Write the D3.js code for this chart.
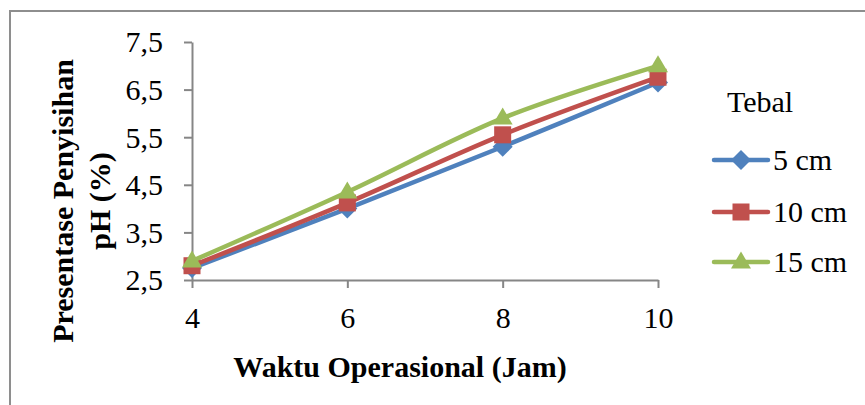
<!DOCTYPE html>
<html>
<head>
<meta charset="utf-8">
<script src="https://cdn.jsdelivr.net/npm/d3@7/dist/d3.min.js"></script>
<style>
  body { margin: 0; background: #fff; }
  svg { display: block; }
</style>
</head>
<body>
<div id="chart"></div>
<script>
// data
const hours = [4, 6, 8, 10];
const yTicks = [2.5, 3.5, 4.5, 5.5, 6.5, 7.5];
const seriesNames = ["5 cm", "10 cm", "15 cm"];
const tebal5 = [2.75, 4.0, 5.3, 6.65];
const tebal10 = [2.8, 4.12, 5.55, 6.76];
const tebal15 = [2.9, 4.35, 5.9, 7.0];
const colors = ["#4F81BD", "#C0504D", "#9BBB59"];
const markers = ["diamond", "square", "triangle"];

const width = 865;
const height = 405;
const font = "'Liberation Serif', 'Times New Roman', serif";
const axisColor = "#868686";

const svg = d3.select("#chart")
  .append("svg")
  .attr("width", width)
  .attr("height", height);

// outer chart frame (runs off the right/bottom of the picture)
svg.append("rect")
  .attr("x", 10)
  .attr("y", 11)
  .attr("width", 900)
  .attr("height", 500)
  .attr("fill", "none")
  .attr("stroke", "#8e8e8e")
  .attr("stroke-width", 2);

const x = d3.scaleLinear().domain([4, 10]).range([192, 658]);
const y = d3.scaleLinear().domain([2.5, 7.5]).range([280, 42]);

// y axis
const yAxis = svg.append("g")
  .attr("transform", `translate(${x(4)},0)`)
  .call(d3.axisLeft(y).tickValues(yTicks).tickSize(8).tickSizeOuter(0)
    .tickFormat(d => d3.format(".1f")(d).replace(".", ",")));

// x axis
const xAxis = svg.append("g")
  .attr("transform", `translate(0,${y(2.5)})`)
  .call(d3.axisBottom(x).tickValues(hours).tickSize(8).tickSizeOuter(0)
    .tickFormat(d => d));

[yAxis, xAxis].forEach(g => {
  g.attr("font-family", font).attr("font-size", 30);
  g.select(".domain").attr("stroke", axisColor).attr("stroke-width", 2);
  g.selectAll(".tick line").attr("stroke", axisColor).attr("stroke-width", 2);
  g.selectAll(".tick text").attr("fill", "#000");
});
yAxis.selectAll(".tick text").attr("x", -29).attr("dy", "0.33em");
xAxis.selectAll(".tick text").attr("y", 27).attr("dy", "0.71em");

// axis titles
svg.append("text")
  .attr("x", 400)
  .attr("y", 377)
  .attr("text-anchor", "middle")
  .style("font-family", font)
  .style("font-size", "30px")
  .style("font-weight", "bold")
  .text("Waktu Operasional (Jam)");

const yTitle = svg.append("text")
  .attr("transform", "translate(0,201) rotate(-90)")
  .attr("text-anchor", "middle")
  .style("font-family", font)
  .style("font-size", "30px")
  .style("font-weight", "bold");
yTitle.append("tspan").attr("x", 0).attr("y", 73).text("Presentase Penyisihan");
yTitle.append("tspan").attr("x", 0).attr("y", 110).text("pH (%)");

// markers
function drawMarker(g, type, cx, cy, color) {
  if (type === "diamond") {
    const r = 10;
    g.append("path")
      .attr("d", `M${cx},${cy - r}L${cx + r},${cy}L${cx},${cy + r}L${cx - r},${cy}Z`)
      .attr("fill", color);
  } else if (type === "square") {
    const s = 17;
    g.append("rect")
      .attr("x", cx - s / 2)
      .attr("y", cy - s / 2)
      .attr("width", s)
      .attr("height", s)
      .attr("fill", color);
  } else {
    const w = 20, h = 17;
    g.append("path")
      .attr("d", `M${cx},${cy - h * 0.62}L${cx + w / 2},${cy + h * 0.38}L${cx - w / 2},${cy + h * 0.38}Z`)
      .attr("fill", color);
  }
}

const allSeries = [tebal5, tebal10, tebal15];

const line = d3.line()
  .x(d => x(d[0]))
  .y(d => y(d[1]))
  .curve(d3.curveCatmullRom.alpha(0));

allSeries.forEach((vals, i) => {
  const pts = hours.map((h, j) => [h, vals[j]]);
  const g = svg.append("g");
  g.append("path")
    .datum(pts)
    .attr("d", line)
    .attr("fill", "none")
    .attr("stroke", colors[i])
    .attr("stroke-width", 4.5)
    .attr("stroke-linejoin", "round")
    .attr("stroke-linecap", "round");
  pts.forEach(p => drawMarker(g, markers[i], x(p[0]), y(p[1]), colors[i]));
});

// legend
svg.append("text")
  .attr("x", 727)
  .attr("y", 112)
  .style("font-family", font)
  .style("font-size", "30px")
  .text("Tebal");

const legendY = [160, 212, 262];
seriesNames.forEach((name, i) => {
  const g = svg.append("g");
  g.append("line")
    .attr("x1", 714)
    .attr("x2", 768)
    .attr("y1", legendY[i])
    .attr("y2", legendY[i])
    .attr("stroke", colors[i])
    .attr("stroke-width", 4.5)
    .attr("stroke-linecap", "round");
  drawMarker(g, markers[i], 741, legendY[i], colors[i]);
  g.append("text")
    .attr("x", 773)
    .attr("y", legendY[i] + 10)
    .style("font-family", font)
    .style("font-size", "30px")
    .text(name);
});
</script>
</body>
</html>
